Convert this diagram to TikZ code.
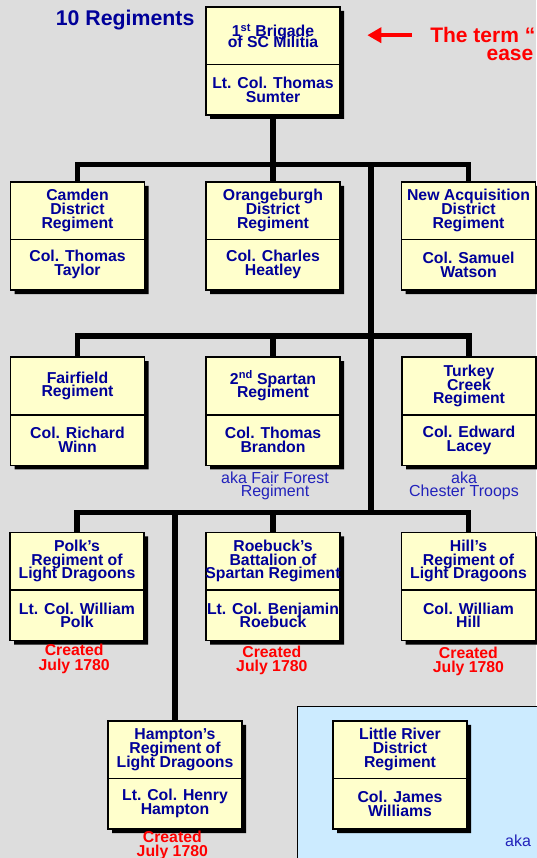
\documentclass[tikz,border=0pt]{standalone}
\usepackage{fontspec}
\setmainfont{Liberation Sans}
\usepackage{xcolor}
\usetikzlibrary{arrows.meta, shapes.multipart, shadows}

\definecolor{bggray}{HTML}{DDDDDD}
\definecolor{boxyellow}{HTML}{FFFFCC}
\definecolor{darknavy}{HTML}{000099}
\definecolor{akablue}{HTML}{2222BB}
\definecolor{panelblue}{HTML}{CCEBFF}

\newcommand{\tightlines}{\lineskiplimit=-20pt\relax}
\newcommand{\unitname}[2][13.7]{\parbox[c][56pt][c]{134pt}{\centering\fontsize{15.8}{#1}\selectfont\tightlines #2}}
\newcommand{\unitcol}[1]{\parbox[c][49pt][c]{134pt}{\centering\fontsize{15.8}{13.7}\selectfont\tightlines #1}}
\newcommand{\createdfont}{\fontsize{15.8}{14.3}\selectfont\bfseries\tightlines}
\newcommand{\akafont}{\fontsize{16}{13.7}\selectfont\tightlines}

\begin{document}
\begin{tikzpicture}[x=1pt, y=-1pt,
    regbox/.style={rectangle split, rectangle split parts=2, draw, line width=1.6pt, fill=boxyellow, inner sep=0pt, anchor=north, font=\bfseries, text=darknavy, drop shadow={shadow xshift=4pt, shadow yshift=-4pt, fill=black, opacity=1}},
    link/.style={line width=5.5pt},
    created/.style={font=\createdfont, text=red, align=center, inner sep=0pt, anchor=north},
    aka/.style={font=\akafont, text=akablue, align=center, inner sep=0pt, anchor=north},
    term/.style={font=\fontsize{21}{18}\selectfont\bfseries, text=red, inner sep=0pt, anchor=base east},
    arr/.style={-{Triangle[length=14pt, width=15pt]}, line width=4.3pt, red}
]
    \fill[bggray] (0,0) rectangle (536,858);
    \useasboundingbox (0,0) rectangle (536,858);

    % Headings
    \node[font=\fontsize{21.3}{24}\selectfont\bfseries, text=darknavy, anchor=base west, inner sep=0pt] (title) at (55.7,25.6) {10 Regiments};
    \node[term] (term1) at (535.5,42.7) {The term “};
    \node[term] (term2) at (533.5,60.7) {ease};

    % Brigade
    \node[regbox] (brig) at (273,6) {\unitname[11]{1\textsuperscript{st} Brigade\\of SC Militia}\nodepart{two}\unitcol{Lt. Col. Thomas\\Sumter}};
    \draw[arr, shorten <=18pt, shorten >=26.5pt] (term1.west) -- (term1.west -| brig.east);

    % First row
    \node[regbox] (camden) at (77.5,181) {\unitname{Camden\\District\\Regiment}\nodepart{two}\unitcol{Col. Thomas\\Taylor}};
    \node[regbox] (orange) at (273,181) {\unitname{Orangeburgh\\District\\Regiment}\nodepart{two}\unitcol{Col. Charles\\Heatley}};
    \node[regbox] (newacq) at (468.5,181) {\unitname{New Acquisition\\District\\Regiment}\nodepart{two}\unitcol{Col. Samuel\\Watson}};

    % Second row
    \node[regbox] (fairfield) at (77.5,356.4) {\unitname{Fairfield\\Regiment}\nodepart{two}\unitcol{Col. Richard\\Winn}};
    \node[regbox] (spartan) at (273,356.4) {\unitname{2\textsuperscript{nd} Spartan\\Regiment}\nodepart{two}\unitcol{Col. Thomas\\Brandon}};
    \node[regbox] (turkey) at (469,356.4) {\unitname{Turkey\\Creek\\Regiment}\nodepart{two}\unitcol{Col. Edward\\Lacey}};
    \node[aka] (spartanaka) at (275,471.3) {aka Fair Forest\\Regiment};
    \node[aka] (turkeyaka) at (464,471.3) {aka\\Chester Troops};

    % Third row
    \node[regbox] (polk) at (77,531.6) {\unitname{Polk’s\\Regiment of\\Light Dragoons}\nodepart{two}\unitcol{Lt. Col. William\\Polk}};
    \node[regbox] (roebuck) at (273,531.6) {\unitname{Roebuck’s\\Battalion of\\\makebox[134pt]{Spartan Regiment}}\nodepart{two}\unitcol{Lt. Col. Benjamin\\Roebuck}};
    \node[regbox] (hill) at (468.5,531.6) {\unitname{Hill’s\\Regiment of\\Light Dragoons}\nodepart{two}\unitcol{Col. William\\Hill}};
    \node[created] (polkdate) at (74.2,644.3) {Created\\July 1780};
    \node[created] (roebuckdate) at (271.8,645.7) {Created\\July 1780};
    \node[created] (hilldate) at (468.4,647) {Created\\July 1780};

    % Fourth row
    \node[regbox] (hampton) at (175,720) {\unitname{Hampton’s\\Regiment of\\Light Dragoons}\nodepart{two}\unitcol{Lt. Col. Henry\\Hampton}};
    \node[created] (hamptondate) at (172.3,830.4) {Created\\July 1780};

    % Blue panel
    \node[draw, line width=1.2pt, fill=panelblue, minimum width=300pt, minimum height=200pt, inner sep=0pt, anchor=north west] (panel) at (296.7,706) {};
    \node[regbox] (little) at (400,720) {\unitname{Little River\\District\\Regiment}\nodepart{two}\unitcol{Col. James\\Williams}};
    \node[regbox] (nextreg) at (598,720) {\unitname{}\nodepart{two}\unitcol{}};
    \node[aka, anchor=base west] (nextaka) at (505,846.7) {aka};

    % Connections
    \coordinate (trunk1) at (371,164.6);
    \coordinate (trunk3) at (371,512.6);
    \draw[link] (brig.south) -- (orange.north);
    \draw[link] (camden.north) -- ++(0,-16.4) -| (newacq.north);
    \draw[link] (trunk1) -- (trunk3);
    \draw[link] (fairfield.north) -- ++(0,-20.6) -| (turkey.north);
    \draw[link] (spartan.north) -- ++(0,-20.6);
    \draw[link] (polk.north) -- ++(0,-19) -| (hill.north);
    \draw[link] (roebuck.north) -- ++(0,-19);
    \draw[link] (hampton.north) -- (hampton.north |- trunk3);
\end{tikzpicture}
\end{document}
